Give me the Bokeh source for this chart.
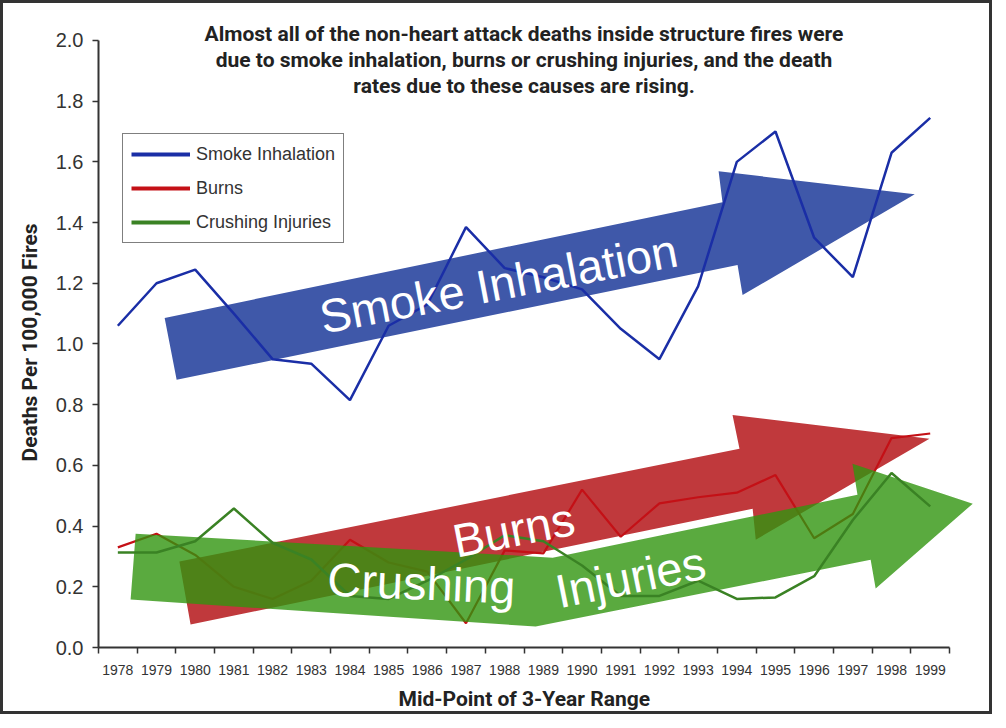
import math
from bokeh.plotting import figure
from bokeh.models import Range1d, FixedTicker, PrintfTickFormatter, Label, Title
from bokeh.embed import file_html
from bokeh.resources import INLINE

# ---------------- data ----------------
years = list(range(1978, 2000))
smoke = [1.06, 1.20, 1.245, 1.10, 0.95, 0.935, 0.815, 1.06, 1.13, 1.385,
         1.25, 1.22, 1.18, 1.05, 0.95, 1.19, 1.60, 1.70, 1.35, 1.22, 1.63, 1.745]
burns = [0.33, 0.375, 0.305, 0.20, 0.16, 0.22, 0.355, 0.28, 0.25, 0.08,
         0.32, 0.31, 0.52, 0.365, 0.475, 0.495, 0.51, 0.568, 0.36, 0.44, 0.69, 0.705]
crushing = [0.313, 0.313, 0.35, 0.458, 0.345, 0.29, 0.17, 0.16, 0.22, 0.29,
            0.37, 0.35, 0.27, 0.17, 0.17, 0.22, 0.16, 0.165, 0.235, 0.42, 0.575, 0.465]
y_ticks = [0.0, 0.2, 0.4, 0.6, 0.8, 1.0, 1.2, 1.4, 1.6, 1.8, 2.0]

series_names = ["Smoke Inhalation", "Burns", "Crushing Injuries"]
series_colors = ["#1a2ea6", "#c41016", "#3a8224"]

title_lines = [
    "Almost all of the non-heart attack deaths inside structure fires were",
    "due to smoke inhalation, burns or crushing injuries, and the death",
    "rates due to these causes are rising.",
]
x_title = "Mid-Point of 3-Year Range"
y_title = "Deaths Per 100,000 Fires"

# decorative trend arrows (outline vertices in data units: year, deaths)
smoke_arrow_x = [1979.21, 1993.63, 1993.53, 1998.60, 1994.15, 1994.02, 1979.52]
smoke_arrow_y = [1.086, 1.467, 1.569, 1.493, 1.161, 1.260, 0.882]
burns_arrow_x = [1979.59, 1994.07, 1993.89, 1998.98, 1994.49, 1994.41, 1979.88]
burns_arrow_y = [0.283, 0.655, 0.766, 0.688, 0.355, 0.457, 0.076]
crush_arrow_x = [1978.46, 1989.24, 1997.12, 1996.99, 2000.10, 1997.59, 1997.46, 1988.80, 1978.33]
crush_arrow_y = [0.375, 0.296, 0.503, 0.605, 0.474, 0.194, 0.289, 0.069, 0.158]

# arrow captions: text, x, y, angle (deg)
arrow_texts = [
    ("Smoke Inhalation", 1987.84, 1.199, 10.8),
    ("Burns", 1988.23, 0.388, 11.0),
    ("Crushing", 1985.85, 0.212, -2.5),
    ("Injuries", 1991.25, 0.232, 11.5),
]

BOLD = "Roboto"
SANS = "Liberation Sans"

# ---------------- figure ----------------
p = figure(width=992, height=714, output_backend="svg", toolbar_location=None,
           x_range=Range1d(1977.5, 2000.3), y_range=Range1d(0, 2.0987),
           min_border_left=95, min_border_right=15, min_border_top=7, min_border_bottom=69)
p.styles = {"border": "3px solid #333333"}
p.outline_line_color = None
p.grid.visible = False
p.background_fill_color = "white"
p.border_fill_color = "white"

# arrows
p.patch(smoke_arrow_x, smoke_arrow_y, fill_color="#3f58a9", line_color=None)
p.patch(burns_arrow_x, burns_arrow_y, fill_color="#c0393c", line_color=None)

p.line(years, smoke, line_color=series_colors[0], line_width=2.5)
p.line(years, burns, line_color=series_colors[1], line_width=2.2)

p.patch(crush_arrow_x, crush_arrow_y, fill_color="#31950f", fill_alpha=0.8, line_color=None)

p.line(years, crushing, line_color=series_colors[2], line_width=2.5)

# legend-only renderers (thicker swatches; their data is NaN so nothing is drawn in the plot)
nan = float("nan")
for name, col in zip(series_names, series_colors):
    p.line([years[0], years[1]], [nan, nan], line_color=col, line_width=4, legend_label=name)

for txt, tx, ty, ang in arrow_texts:
    p.add_layout(Label(x=tx, y=ty, text=txt, angle=math.radians(ang),
                       text_align="center", text_baseline="middle",
                       text_font=SANS, text_font_size="47px", text_color="white"))

title_y = [2.020, 1.934, 1.849]
for line, ty in zip(title_lines, title_y):
    p.add_layout(Label(x=1988.5, y=ty, text=line, text_align="center", text_baseline="middle",
                       text_font=BOLD, text_font_style="bold", text_font_size="21px",
                       text_color="#222222"))

# axes
xa = p.xaxis[0]
xa.ticker = FixedTicker(ticks=years, minor_ticks=[y - 0.5 for y in years] + [years[-1] + 0.5])
xa.bounds = (1977.5, 1999.5)
xa.major_tick_line_color = None
xa.major_tick_out = 6
xa.major_tick_in = 0
xa.minor_tick_line_color = "#333333"
xa.minor_tick_line_width = 1.5
xa.minor_tick_out = 6
xa.minor_tick_in = 0
xa.axis_line_color = "#333333"
xa.axis_line_width = 2
xa.major_label_text_font = SANS
xa.major_label_text_font_size = "14px"
xa.major_label_text_color = "#333333"
xa.major_label_standoff = 11

ya = p.yaxis[0]
ya.ticker = FixedTicker(ticks=y_ticks)
ya.formatter = PrintfTickFormatter(format="%.1f")
ya.bounds = (0, 2.0)
ya.major_tick_line_color = "#333333"
ya.major_tick_line_width = 1.5
ya.major_tick_out = 6
ya.major_tick_in = 0
ya.minor_tick_line_color = None
ya.axis_line_color = "#333333"
ya.axis_line_width = 2
ya.major_label_text_font = SANS
ya.major_label_text_font_size = "20px"
ya.major_label_text_color = "#333333"
ya.major_label_standoff = 9

# axis titles (side titles, positioned along the axis with an offset)
p.add_layout(Title(text=y_title, align="left", offset=186, standoff=21,
                   text_font=BOLD, text_font_style="bold", text_font_size="21px",
                   text_color="#222222"), "left")
p.add_layout(Title(text=x_title, align="left", offset=300, standoff=14,
                   text_font=BOLD, text_font_style="bold", text_font_size="21px",
                   text_color="#222222"), "below")

# legend
lg = p.legend[0]
lg.location = (24, 404)
lg.border_line_color = "black"
lg.border_line_width = 1.5
lg.background_fill_color = "white"
lg.background_fill_alpha = 1.0
lg.label_text_font = SANS
lg.label_text_font_size = "18px"
lg.label_text_color = "#333333"
lg.glyph_width = 59
lg.glyph_height = 24
lg.label_height = 24
lg.label_standoff = 6
lg.spacing = 10
lg.padding = 8
lg.margin = 0

open("out.html", "w").write(file_html(p, INLINE))
